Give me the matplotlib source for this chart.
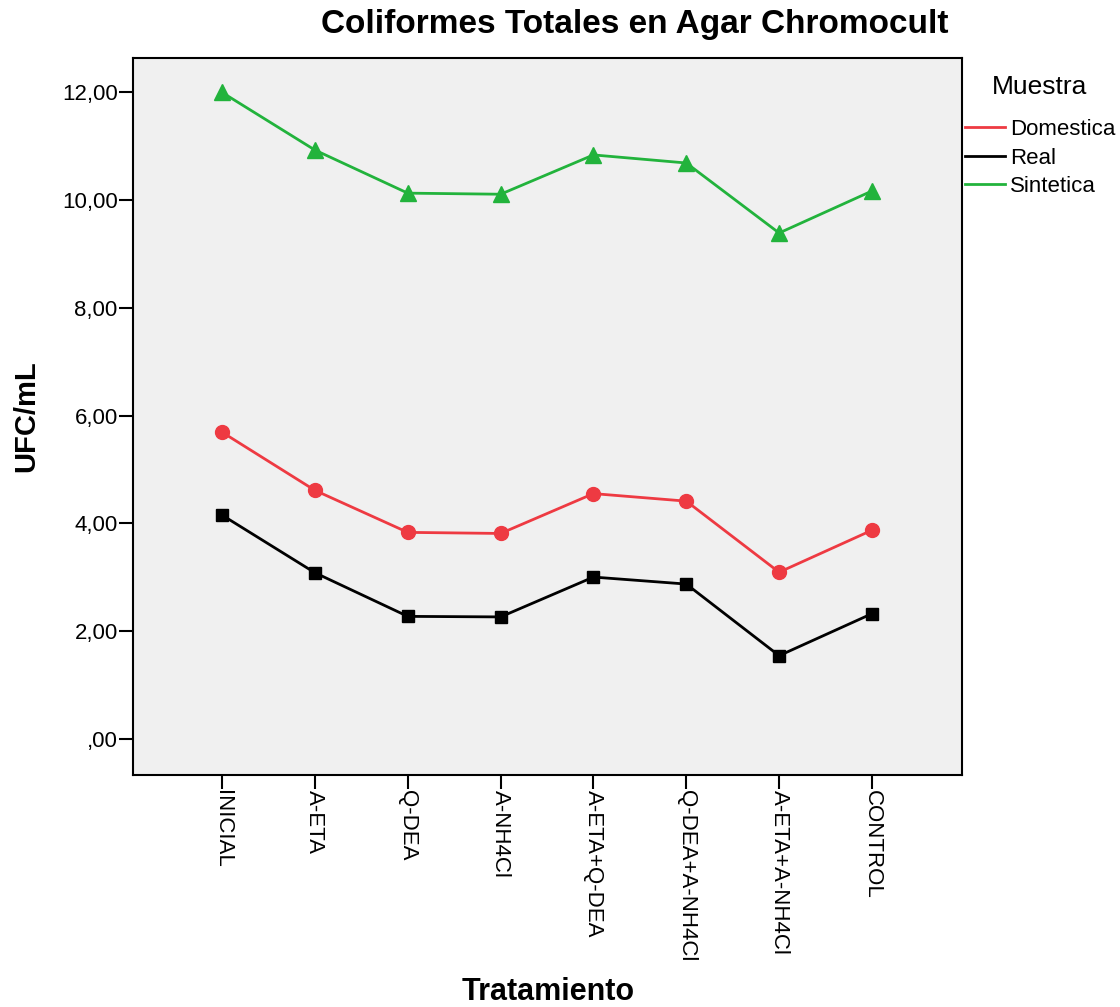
import matplotlib
matplotlib.use("Agg")
import matplotlib.pyplot as plt
from matplotlib.ticker import FuncFormatter

plt.rcParams['font.family'] = ['Liberation Sans', 'DejaVu Sans']

# --- datos ---
tratamientos = ["INICIAL", "A-ETA", "Q-DEA", "A-NH4Cl", "A-ETA+Q-DEA",
                "Q-DEA+A-NH4Cl", "A-ETA+A-NH4Cl", "CONTROL"]
domestica = [5.69, 4.61, 3.83, 3.81, 4.55, 4.41, 3.09, 3.87]
real = [4.15, 3.08, 2.27, 2.26, 3.00, 2.87, 1.54, 2.32]
sintetica = [12.00, 10.93, 10.13, 10.11, 10.84, 10.69, 9.39, 10.17]
yticks = [0, 2, 4, 6, 8, 10, 12]

# --- estilo ---
ROJO = '#ee3a42'
NEGRO = '#000000'
VERDE = '#22b33c'


def coma(v, pos=None):
    s = f"{v:.2f}".replace('.', ',')
    if s.startswith('0,'):
        s = s[1:]
    return s


fig = plt.figure(figsize=(11.2, 10.07), dpi=100)
ax = fig.add_axes([133 / 1120, 1 - 775 / 1007, (962 - 133) / 1120, (775 - 58) / 1007])
ax.set_facecolor('#f0f0f0')

x = list(range(len(tratamientos)))
ax.plot(x, domestica, color=ROJO, lw=2, marker='o', ms=10, label='Domestica')
ax.plot(x, real, color=NEGRO, lw=2, marker='s', ms=8, label='Real')
ax.plot(x, sintetica, color=VERDE, lw=2, marker='^', ms=11, label='Sintetica')

ax.set_xlim(-0.96, 7.97)
ax.set_ylim(-0.676, 12.64)
ax.set_yticks(yticks)
ax.yaxis.set_major_formatter(FuncFormatter(coma))
ax.set_xticks(x)
ax.set_xticklabels(tratamientos, rotation=-90)
ax.tick_params(axis='both', length=10, width=1.5, pad=1, labelsize=16)

for s in ax.spines.values():
    s.set_linewidth(1.5)

fig.text(635 / 1120, 1 - 24 / 1007, "Coliformes Totales en Agar Chromocult",
         ha='center', va='center', fontsize=24, fontweight='bold')
fig.text(26 / 1120, 1 - 416 / 1007, "UFC/mL", rotation=90, ha='center', va='center',
         fontsize=21, fontweight='bold')
fig.text(548 / 1120, 1 - 992 / 1007, "Tratamiento", ha='center', va='center',
         fontsize=22, fontweight='bold')

# leyenda: titulo aparte para controlar la separacion
fig.text(1040 / 1120, 1 - 87 / 1007, "Muestra", ha='center', va='center', fontsize=19)
leg = fig.legend(loc='upper left', bbox_to_anchor=(965 / 1120, 1 - 119 / 1007),
                 frameon=False, fontsize=16,
                 handlelength=1.8, handletextpad=0.23, labelspacing=0.34,
                 borderpad=0, borderaxespad=0)
for h in leg.legend_handles:
    h.set_marker('')

fig.savefig("out.png", dpi=100)
